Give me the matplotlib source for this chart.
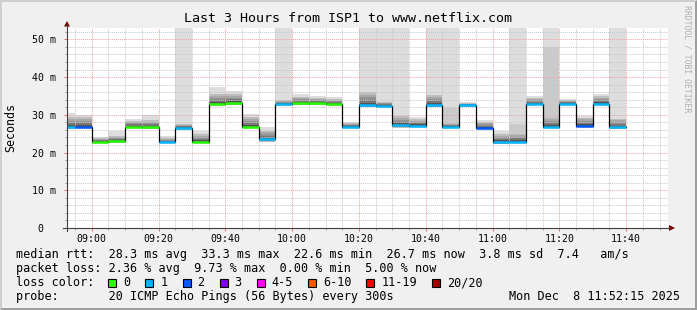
import numpy as np
import matplotlib
matplotlib.use("Agg")
import matplotlib.pyplot as plt
from matplotlib.patches import Rectangle, Polygon
from matplotlib.lines import Line2D

# ===================== 数据 =====================
# 每个 5 分钟区间的结束时间
step_end = ["08:55", "09:00", "09:05", "09:10", "09:15", "09:20", "09:25", "09:30",
            "09:35", "09:40", "09:45", "09:50", "09:55", "10:00", "10:05", "10:10",
            "10:15", "10:20", "10:25", "10:30", "10:35", "10:40", "10:45", "10:50",
            "10:55", "11:00", "11:05", "11:10", "11:15", "11:20", "11:25", "11:30",
            "11:35", "11:40"]
median_ms = [26.8, 26.8, 22.8, 23.0, 26.8, 26.8, 22.7, 26.5, 22.8, 32.8, 33.1, 26.8,
             23.5, 32.8, 33.1, 33.2, 32.8, 26.8, 32.5, 32.4, 27.2, 27.1, 32.5, 26.8,
             32.5, 26.6, 22.8, 22.9, 32.9, 26.8, 32.9, 27.1, 32.9, 26.7]
loss_pings = [1, 2, 0, 0, 0, 0, 1, 1, 0, 0, 0, 0, 1, 1, 0, 0, 0, 1, 1, 1, 1, 1, 1, 1,
              1, 2, 1, 1, 1, 1, 1, 2, 1, 1]
# smoke: 下沿 / 深色核心上沿 / 中灰上沿 / 浅灰上沿（60 = 超出图顶）
smoke_lo = [26.3, 26.5, 22.4, 22.6, 26.4, 26.3, 22.4, 26.1, 22.4, 32.4, 32.6, 26.4,
            22.8, 32.4, 32.6, 32.7, 32.4, 26.4, 32.1, 32.0, 26.6, 26.7, 32.1, 26.4,
            32.1, 26.2, 22.2, 22.5, 32.5, 26.4, 32.5, 26.7, 32.5, 26.3]
smoke_core = [29.5, 29.5, 23.8, 24.5, 28.4, 28.5, 23.9, 27.6, 24.8, 35.5, 35.5, 29.3,
              25.8, 33.8, 34.8, 34.4, 34.2, 27.8, 36.0, 33.4, 29.7, 28.8, 35.2, 27.8,
              33.1, 28.0, 24.8, 25.0, 34.4, 29.4, 33.8, 29.2, 35.0, 29.0]
smoke_mid = [29.5, 29.5, 23.8, 24.5, 28.4, 28.5, 23.9, 27.6, 24.8, 35.5, 35.5, 29.3,
             25.8, 33.8, 34.8, 34.4, 34.2, 27.8, 36.0, 33.4, 29.7, 28.8, 35.2, 32.1,
             33.1, 28.0, 24.8, 27.5, 34.4, 48.0, 33.8, 29.2, 35.0, 29.0]
smoke_hi = [30.6, 29.9, 24.2, 25.8, 28.8, 29.9, 24.3, 60, 25.7, 37.4, 36.2, 30.1,
            26.7, 60, 35.4, 34.9, 34.7, 28.1, 60, 60, 60, 29.5, 60, 60,
            33.4, 28.6, 25.7, 60, 34.9, 60, 34.1, 29.7, 35.6, 60]

y_ticks = [0, 10, 20, 30, 40, 50]
y_labels = ["0  ", "10 m", "20 m", "30 m", "40 m", "50 m"]
x_tick_labels = ["09:00", "09:20", "09:40", "10:00", "10:20", "10:40", "11:00", "11:20", "11:40"]

loss_labels = ["0", "1", "2", "3", "4-5", "6-10", "11-19", "20/20"]
loss_colors = ["#26ff00", "#00b8ff", "#0059ff", "#7e00ff", "#ff00ff", "#ff5500", "#ff0000", "#a10000"]

title = "Last 3 Hours from ISP1 to www.netflix.com"
row_rtt = "median rtt:  28.3 ms avg  33.3 ms max  22.6 ms min  26.7 ms now  3.8 ms sd  7.4   am/s"
row_loss = "packet loss: 2.36 % avg  9.73 % max  0.00 % min  5.00 % now"
row_probe = "probe:       20 ICMP Echo Pings (56 Bytes) every 300s"
stamp = "Mon Dec  8 11:52:15 2025"

# ===================== 画布 =====================
W, H = 697, 310
MONO = "DejaVu Sans Mono"
plt.rcParams["font.family"] = MONO

def fx(x):
    return x / W

def fy(y):
    return 1 - y / H

fig = plt.figure(figsize=(W / 100, H / 100), dpi=100, facecolor="#f0f0f0")

# 3D 边框（rrdtool 风格）
fig.patches.append(Polygon([(0, 1), (1, 1), (1 - fx(2), fy(2)), (fx(2), fy(2)), (fx(2), 0), (0, 0)],
                           closed=True, transform=fig.transFigure, fc="#cfcfcf", ec="none"))
fig.patches.append(Polygon([(1, 1), (1, 0), (0, 0), (fx(2), fy(H - 2)), (1 - fx(2), fy(H - 2)), (1 - fx(2), fy(2))],
                           closed=True, transform=fig.transFigure, fc="#9e9e9e", ec="none"))

ax = fig.add_axes([fx(66.65), fy(228), fx(601.2), (228 - 28) / H])
ax.set_facecolor("white")

# 时间 -> 相对 09:00 的分钟数
ends = np.array([int(t[:2]) * 60 + int(t[3:]) - 540 for t in step_end], dtype=float)
starts = ends - 5
med = np.array(median_ms)
lo = np.array(smoke_lo)
core = np.array(smoke_core)
mid = np.array(smoke_mid)
hi = np.array(smoke_hi)

# ===================== smoke =====================
ax.bar(starts, hi - lo, bottom=lo, width=5, align="edge", color="#dddddd", lw=0, zorder=1)
ax.bar(starts, mid - lo, bottom=lo, width=5, align="edge", color="#cacaca", lw=0, zorder=1)
shades = ["#bdbdbd", "#a8a8a8", "#929292", "#777777", "#555555"]
for k, c in enumerate(shades):
    f = 1 - k / len(shades)
    top = med + (core - med) * f
    bot = med - (med - lo) * f
    ax.bar(starts, top - bot, bottom=bot, width=5, align="edge", color=c, lw=0, zorder=1)

# ===================== 中位数线 =====================
ax.step(np.append(starts, ends[-1]), np.append(med, med[-1]), where="post",
        color="#000000", lw=0.9, zorder=3)

def loss_index(n):
    if n <= 3:
        return n
    if n <= 5:
        return 4
    if n <= 10:
        return 5
    if n <= 19:
        return 6
    return 7

line_colors = [loss_colors[loss_index(n)] for n in loss_pings]
ax.hlines(med, starts, ends, colors=line_colors, lw=1.8, zorder=4, capstyle="butt")

# ===================== 坐标轴与网格 =====================
ax.set_xlim(-7.5, 172.5)
ax.set_ylim(0, 53)
ax.set_xticks(range(0, 161, 20))
ax.set_xticklabels(x_tick_labels)
ax.set_xticks(np.arange(-5, 171, 5), minor=True)
ax.set_yticks(y_ticks)
ax.set_yticklabels(y_labels)
ax.set_yticks(np.arange(2, 53, 2), minor=True)

ax.set_axisbelow(False)
ax.grid(which="minor", color="#c8c8c8", lw=0.7, ls=(0, (1, 1)))
ax.grid(which="major", color="#f0a0a0", lw=0.7, ls=(0, (1, 1)))
ax.tick_params(which="major", length=2.5, width=0.7, color="#e07070", labelsize=7.1, pad=1.5)
ax.tick_params(axis="y", which="major", pad=5)
ax.tick_params(which="minor", length=1.5, width=0.7, color="#a0a0a0")
for s in ax.spines.values():
    s.set_visible(False)

# 坐标轴线与箭头
fig.add_artist(Line2D([fx(67), fx(67)], [fy(231), fy(24)], color="#404040", lw=0.8))
fig.add_artist(Line2D([fx(63), fx(670)], [fy(228), fy(228)], color="#404040", lw=0.8))
fig.patches.append(Polygon([(fx(64), fy(26.5)), (fx(70), fy(26.5)), (fx(67), fy(21))],
                           closed=True, transform=fig.transFigure, fc="#7f0000", ec="none"))
fig.patches.append(Polygon([(fx(669), fy(225)), (fx(669), fy(231)), (fx(675), fy(228))],
                           closed=True, transform=fig.transFigure, fc="#7f0000", ec="none"))

# ===================== 文字 =====================
fig.text(0.5, fy(19), title, ha="center", va="center", fontsize=9.6)
fig.text(fx(10.5), fy(127.5), "Seconds", rotation=90, ha="center", va="center", fontsize=8.4)
fig.text(fx(687.5), fy(59), "RRDTOOL / TOBI OETIKER", rotation=270, ha="center", va="center",
         fontsize=5.9, color="#b0b0b0")

fs = 8.5
fig.text(fx(16), fy(254.3), row_rtt, ha="left", va="center", fontsize=fs)
fig.text(fx(16), fy(268.7), row_loss, ha="left", va="center", fontsize=fs)
fig.text(fx(16), fy(282.7), "loss color:", ha="left", va="center", fontsize=fs)
fig.text(fx(16), fy(296.3), row_probe, ha="left", va="center", fontsize=fs)
fig.text(fx(680), fy(296.3), stamp, ha="right", va="center", fontsize=fs)

# loss color 图例方块
bx = 108.3
for lab, col in zip(loss_labels, loss_colors):
    fig.patches.append(Rectangle((fx(bx), fy(286.7)), fx(8), 8 / H, transform=fig.transFigure,
                                 fc=col, ec="black", lw=0.8))
    fig.text(fx(bx + 15), fy(282.7), lab, ha="left", va="center", fontsize=fs)
    bx += 30 + 7.1 * len(lab)

fig.savefig("out.png", dpi=100, facecolor=fig.get_facecolor())
